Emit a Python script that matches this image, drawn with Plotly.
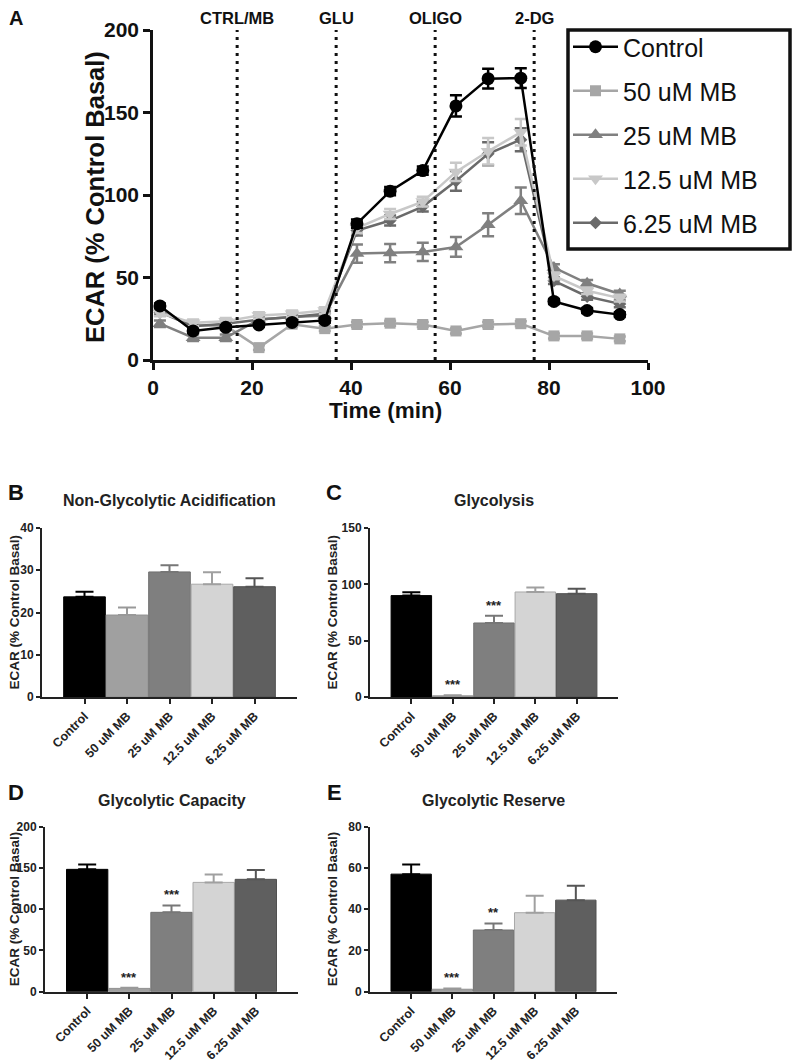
import plotly.graph_objects as go

# ---------------- Panel A data ----------------
time_min = [1.4, 8.1, 14.7, 21.4, 28.1, 34.7, 41.2, 47.9, 54.5, 61.2, 67.7, 74.3, 81.0, 87.7, 94.3]
control = [32.8, 17.6, 19.8, 21.2, 22.8, 24.0, 82.6, 102.3, 114.8, 154.0, 170.5, 170.8, 35.5, 30.0, 27.5]
control_err = [1.5, 1.2, 1.2, 1.2, 1.2, 1.5, 2.5, 2.5, 2.5, 6.5, 6.0, 6.0, 1.5, 1.5, 1.5]
mb50 = [30.0, 21.0, 20.7, 7.5, 21.7, 19.0, 21.5, 22.3, 21.5, 17.6, 21.5, 22.0, 14.6, 14.6, 12.8]
mb50_err = [1.5, 1.5, 1.5, 1.5, 1.5, 1.5, 1.5, 1.5, 1.5, 1.5, 1.5, 1.5, 1.5, 1.5, 1.5]
mb25 = [22.0, 13.5, 13.5, 24.5, 26.0, 27.0, 64.5, 64.8, 65.5, 68.5, 82.0, 96.5, 56.0, 46.5, 40.0]
mb25_err = [2.0, 2.0, 2.0, 2.0, 2.0, 2.0, 5.5, 5.5, 5.5, 6.0, 7.0, 8.0, 2.0, 2.0, 2.0]
mb12 = [28.5, 22.5, 23.5, 27.0, 28.0, 30.0, 80.0, 88.5, 96.0, 114.0, 126.5, 138.0, 51.0, 42.0, 37.5]
mb12_err = [2.0, 2.0, 2.0, 2.0, 2.0, 2.0, 3.0, 3.0, 3.0, 5.5, 8.0, 8.0, 2.0, 2.0, 2.0]
mb6 = [29.0, 20.5, 22.0, 24.5, 26.0, 28.0, 78.5, 84.5, 93.0, 108.5, 125.0, 133.5, 48.0, 38.5, 34.0]
mb6_err = [2.0, 2.0, 2.0, 2.0, 2.0, 2.0, 3.0, 3.0, 3.0, 6.0, 7.0, 7.0, 2.0, 2.0, 2.0]

injections = [17, 37, 57, 77]
injection_labels = ["CTRL/MB", "GLU", "OLIGO", "2-DG"]
x_ticks_a = [0, 20, 40, 60, 80, 100]
y_ticks_a = [0, 50, 100, 150, 200]

# ---------------- Bar panel data ----------------
categories = ["Control", "50 uM MB", "25 uM MB", "12.5 uM MB", "6.25 uM MB"]
nonglyc = [23.7, 19.4, 29.6, 26.7, 26.1]
nonglyc_err = [1.2, 1.8, 1.6, 2.8, 2.0]
nonglyc_sig = ["", "", "", "", ""]
glycolysis = [90.0, 1.0, 65.7, 93.2, 91.7]
glycolysis_err = [2.9, 0.6, 6.5, 4.1, 4.3]
glycolysis_sig = ["", "***", "***", "", ""]
capacity = [148.3, 4.0, 96.2, 132.5, 136.2]
capacity_err = [6.0, 0.8, 8.4, 9.7, 11.3]
capacity_sig = ["", "***", "***", "", ""]
reserve = [57.0, 1.2, 29.9, 38.3, 44.4]
reserve_err = [4.7, 0.4, 3.2, 8.2, 7.0]
reserve_sig = ["", "***", "**", "", ""]

FONT = "Liberation Sans, Arial, sans-serif"
OFF = 8              # default page body margin
W, H = 800 - OFF, 1064 - OFF

def px_x(p):
    return (p - OFF) / W

def px_y(p):
    return 1 - (p - OFF) / H

fig = go.Figure()

# ---------------- Panel A traces ----------------
series = [
    ("50 uM MB", mb50, mb50_err, "#a6a6a6", "square", 11, 2),
    ("25 uM MB", mb25, mb25_err, "#808080", "triangle-up", 13, 3),
    ("6.25 uM MB", mb6, mb6_err, "#6a6a6a", "diamond", 10, 5),
    ("12.5 uM MB", mb12, mb12_err, "#c8c8c8", "triangle-down", 13, 4),
    ("Control", control, control_err, "#000000", "circle", 13, 1),
]
for name, vals, errs, col, sym, size, rank in series:
    fig.add_trace(go.Scatter(
        x=time_min, y=vals, name=name, mode="lines+markers",
        line=dict(color=col, width=2.5),
        marker=dict(symbol=sym, size=size, color=col),
        error_y=dict(type="data", array=errs, color=col, thickness=2.5, width=6),
        legendgroup=name, legendrank=rank, xaxis="x", yaxis="y",
    ))

# ---------------- Bar panels ----------------
bar_fill = ["#000000", "#a0a0a0", "#7f7f7f", "#d4d4d4", "#5f5f5f"]
bar_edge = ["#000000", "#909090", "#707070", "#a8a8a8", "#505050"]
err_col = ["#000000", "#999999", "#777777", "#a0a0a0", "#555555"]

panels = [
    ("x2", "y2", nonglyc, nonglyc_err, nonglyc_sig),
    ("x3", "y3", glycolysis, glycolysis_err, glycolysis_sig),
    ("x4", "y4", capacity, capacity_err, capacity_sig),
    ("x5", "y5", reserve, reserve_err, reserve_sig),
]
annotations = []
for xa, ya, vals, errs, sigs in panels:
    for i, cat in enumerate(categories):
        fig.add_trace(go.Bar(
            x=[i], y=[vals[i]], width=0.98, showlegend=False,
            marker=dict(color=bar_fill[i], line=dict(color=bar_edge[i], width=1)),
            error_y=dict(type="data", array=[errs[i]], arrayminus=[0], symmetric=False,
                         color=err_col[i], thickness=2, width=9),
            xaxis=xa, yaxis=ya,
        ))
        if sigs[i]:
            annotations.append(dict(
                x=i, y=vals[i] + errs[i], xref=xa, yref=ya, text=sigs[i],
                showarrow=False, xanchor="center", yanchor="bottom", yshift=1,
                font=dict(family=FONT, size=13, color="#222", weight="bold"),
            ))

# ---------------- Layout ----------------
tickfont_a = dict(family=FONT, size=21, color="#111", weight="bold")
axis_common_a = dict(showgrid=False, zeroline=False, showline=True, linecolor="#111",
                     linewidth=2.5, ticks="outside", ticklen=7, tickwidth=2.5,
                     tickcolor="#111", tickfont=tickfont_a, automargin=False)

layout = dict(
    width=W, height=H, margin=dict(l=0, r=0, t=0, b=0, autoexpand=False),
    paper_bgcolor="white", plot_bgcolor="white",
    barmode="overlay",
    font=dict(family=FONT, color="#111"),
    xaxis=dict(domain=[px_x(153), px_x(648)], range=[0, 100], tickvals=x_ticks_a,
               anchor="y", **axis_common_a),
    yaxis=dict(domain=[px_y(360), px_y(30)], range=[0, 200], tickvals=y_ticks_a,
               anchor="x", **axis_common_a),
    showlegend=True,
    legend=dict(x=px_x(568), y=px_y(24), xanchor="left", yanchor="top",
                bgcolor="rgba(0,0,0,0)", borderwidth=0, itemwidth=45,
                tracegroupgap=8.5, traceorder="grouped",
                font=dict(family=FONT, size=25, color="#111")),
)

tickfont_b = dict(family=FONT, size=12, color="#222", weight="bold")
catfont = dict(family=FONT, size=12.5, color="#222", weight="bold")
bar_axes = [
    ("xaxis2", "yaxis2", "x2", "y2", (42, 297), (697, 528), [0, 10, 20, 30, 40], 40),
    ("xaxis3", "yaxis3", "x3", "y3", (370, 618), (697, 528), [0, 50, 100, 150], 150),
    ("xaxis4", "yaxis4", "x4", "y4", (45, 298), (991.7, 826.7), [0, 50, 100, 150, 200], 200),
    ("xaxis5", "yaxis5", "x5", "y5", (370, 617), (991.7, 826.7), [0, 20, 40, 60, 80], 80),
]
for xk, yk, xr, yr, (xl, xh), (yb, yt), yticks, ymax in bar_axes:
    layout[xk] = dict(domain=[px_x(xl), px_x(xh)], range=[-1.0, 5.0], anchor=yr,
                      tickvals=list(range(len(categories))), ticktext=categories,
                      tickangle=-45, showgrid=False, zeroline=False, showline=True,
                      linecolor="#222", linewidth=2, ticks="outside", ticklen=5,
                      tickwidth=2, tickcolor="#222", tickfont=catfont, automargin=False)
    layout[yk] = dict(domain=[px_y(yb), px_y(yt)], range=[0, ymax], anchor=xr,
                      tickvals=yticks, showgrid=False, zeroline=False, showline=True,
                      linecolor="#222", linewidth=2, ticks="outside", ticklen=4,
                      tickwidth=2, tickcolor="#222", tickfont=tickfont_b, automargin=False)

# titles & labels
bold = lambda s, c="#111": dict(family=FONT, size=s, color=c, weight="bold")

def label(x, y, text, font, xref="paper", angle=0):
    return dict(x=x, y=y, xref=xref, yref="paper", text=text, showarrow=False,
                xanchor="center", yanchor="middle", textangle=angle, font=font)

annotations += [
    label(px_x(385), px_y(411), "Time (min)", bold(22.5)),
    label(px_x(95), px_y(197), "ECAR (% Control Basal)", bold(25.5), angle=-90),
    label(px_x(16), px_y(18), "A", bold(20)),
]
for xpos, lab in zip(injections, injection_labels):
    annotations.append(label(xpos, px_y(18), lab, bold(16.5), xref="x"))

panel_titles = [
    ("B", "Non-Glycolytic Acidification", (42, 297), 501, (697, 528)),
    ("C", "Glycolysis", (370, 618), 501, (697, 528)),
    ("D", "Glycolytic Capacity", (45, 298), 800, (991.7, 826.7)),
    ("E", "Glycolytic Reserve", (370, 617), 800, (991.7, 826.7)),
]
for letter, title, (xl, xh), ty, (yb, yt) in panel_titles:
    lx = 16 if xl < 200 else 334
    annotations.append(label(px_x(lx), px_y(ty - 8), letter, bold(22)))
    annotations.append(label(px_x((xl + xh) / 2), px_y(ty), title, bold(16, "#222")))
    annotations.append(label(px_x(lx - 2), px_y((yb + yt) / 2), "ECAR (% Control Basal)",
                             bold(13.5, "#222"), angle=-90))

layout["annotations"] = annotations

shapes = []
for xpos in injections:
    shapes.append(dict(type="line", xref="x", yref="y", x0=xpos, x1=xpos, y0=0, y1=200,
                       line=dict(color="#111", width=3, dash="3px,5px")))
shapes.append(dict(type="rect", xref="paper", yref="paper",
                   x0=px_x(568), x1=px_x(790), y0=px_y(249), y1=px_y(30),
                   line=dict(color="#111", width=3.5), fillcolor="rgba(0,0,0,0)"))
layout["shapes"] = shapes

fig.update_layout(**layout)
fig.write_html("out.html")
